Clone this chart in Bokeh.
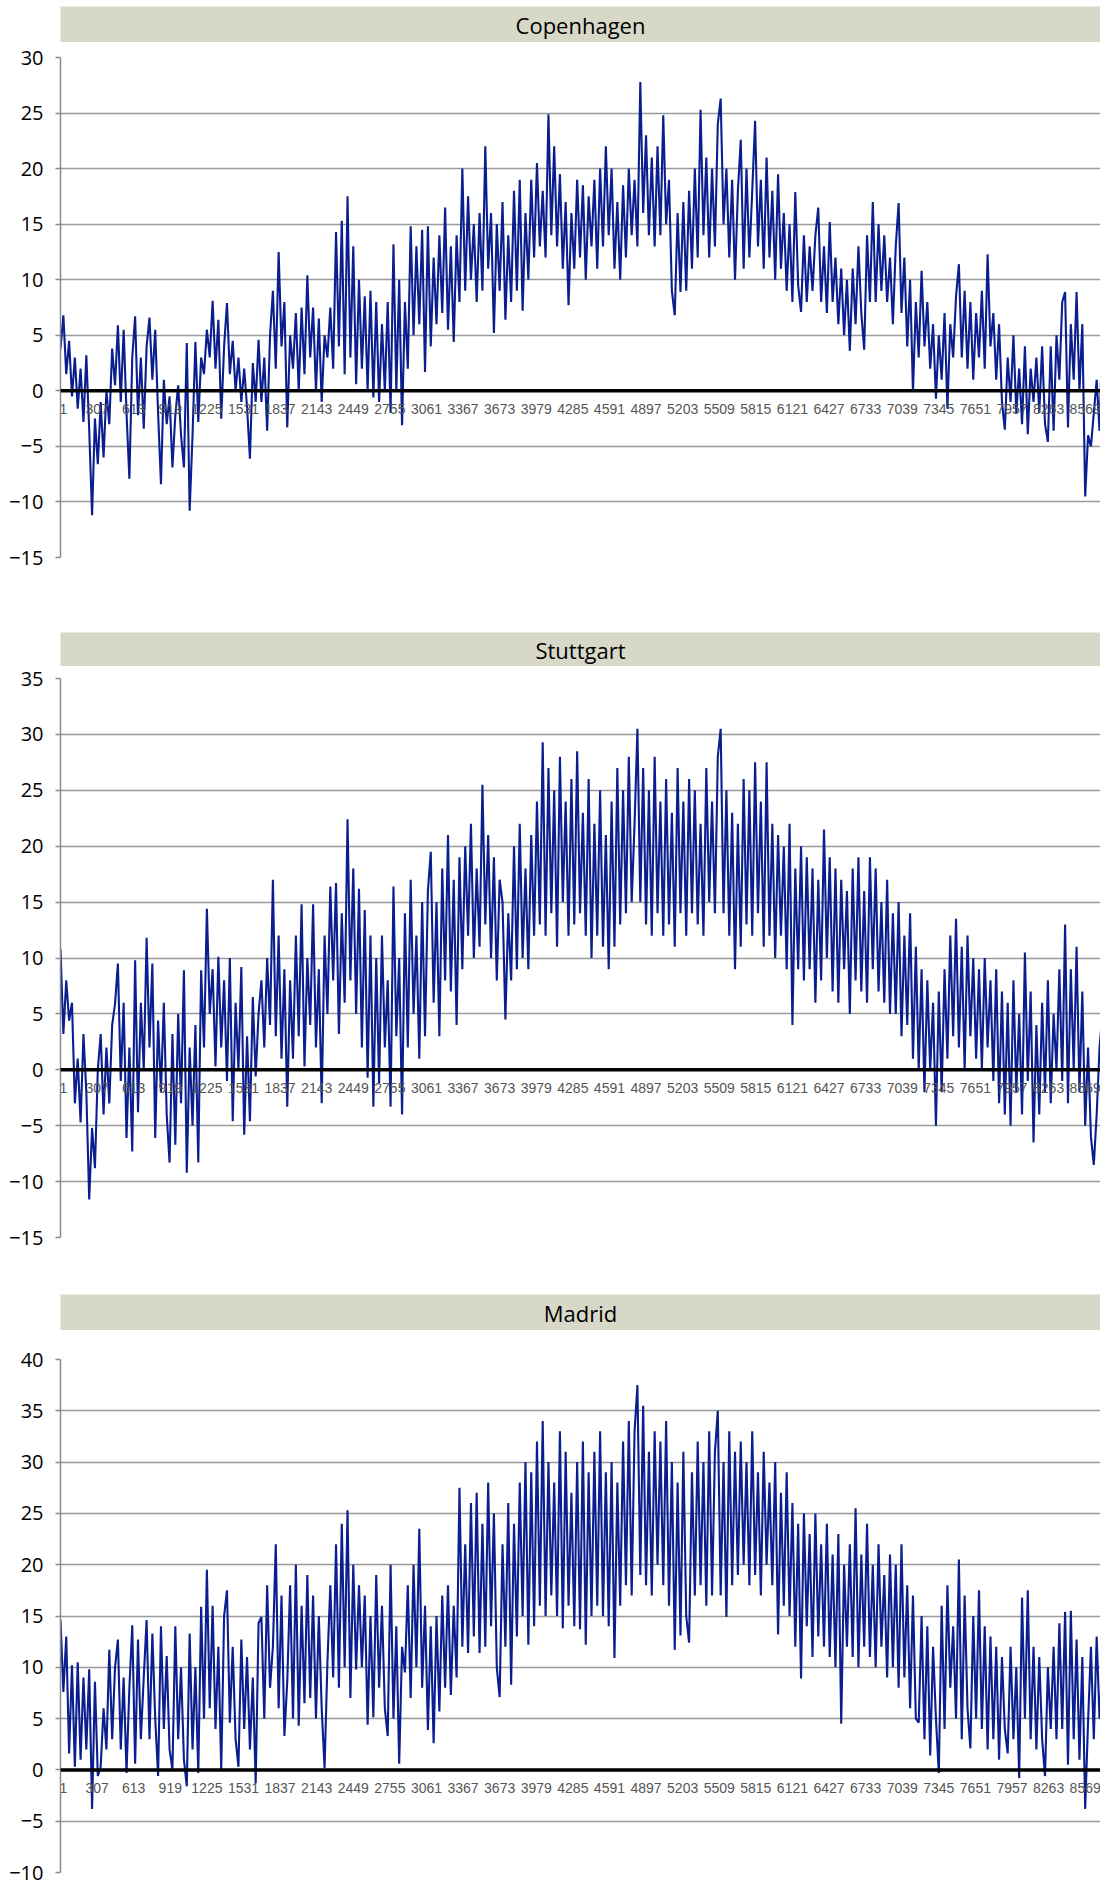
from bokeh.plotting import figure
from bokeh.layouts import column
from bokeh.models import Range1d, FixedTicker, Span
from bokeh.core.properties import value
from bokeh.embed import file_html
from bokeh.resources import INLINE

# ---------------- data (hourly temperature, °C), one reading every 24 hours ----------------
STEP_HOURS = 24

copenhagen = [
    3.8, 6.8, 1.5, 4.5, -0.5, 3.0, -1.6, 2.0, -2.8, 3.2,
    -3.5, -11.2, -2.5, -6.6, -1.0, -6.0, 0.0, -3.0, 3.8, 0.5,
    5.9, -1.0, 5.5, -2.0, -7.9, 3.0, 6.7, -2.2, 3.0, -3.4,
    4.0, 6.6, 1.0, 5.5, -2.0, -8.4, 1.0, -3.0, -0.5, -6.9,
    -2.2, 0.5, -4.0, -6.9, 4.3, -10.8, -4.0, 4.4, -2.8, 3.0,
    1.5, 5.5, 3.0, 8.1, 2.0, 6.4, -2.5, 4.0, 7.9, 1.5,
    4.5, 0.0, 3.0, -1.0, 2.0, -1.5, -6.1, 2.5, -1.0, 4.6,
    -1.0, 3.0, -3.6, 5.0, 9.0, 2.0, 12.5, 4.0, 8.0, -3.3,
    5.0, 2.0, 7.0, 0.0, 7.5, 1.5, 10.4, 3.0, 7.5, 0.0,
    6.5, -1.0, 5.0, 3.0, 7.5, 2.0, 14.3, 4.0, 15.3, 1.5,
    17.5, 3.0, 13.0, 0.6, 10.0, 2.0, 8.5, 0.0, 9.0, -0.6,
    8.0, -1.0, 6.0, 0.0, 8.0, -2.0, 13.2, 0.0, 10.0, -3.1,
    8.0, 2.0, 14.8, 5.0, 13.0, 6.0, 14.5, 1.7, 14.8, 4.0,
    12.0, 6.0, 14.0, 7.0, 16.5, 5.5, 13.0, 4.4, 14.0, 8.0,
    20.0, 9.0, 17.5, 10.0, 15.0, 8.0, 16.0, 9.0, 22.0, 11.0,
    16.0, 5.2, 15.0, 9.0, 17.0, 6.4, 14.0, 8.0, 18.0, 9.0,
    19.0, 7.2, 16.0, 10.0, 19.0, 12.0, 20.5, 13.0, 18.0, 12.0,
    24.9, 14.0, 22.0, 13.0, 19.5, 11.0, 17.0, 7.7, 16.0, 11.0,
    19.0, 12.0, 18.5, 10.0, 17.5, 13.0, 19.0, 11.0, 20.0, 13.0,
    22.0, 14.0, 20.0, 11.0, 17.0, 10.0, 18.5, 12.0, 20.0, 14.0,
    19.0, 13.0, 27.8, 16.0, 23.0, 14.0, 21.0, 13.0, 22.0, 14.0,
    24.8, 15.0, 19.0, 9.0, 6.8, 16.0, 8.9, 17.0, 9.0, 18.0,
    11.0, 20.0, 12.0, 25.3, 14.0, 21.0, 12.0, 20.0, 13.0, 24.0,
    26.3, 15.0, 20.0, 12.0, 19.0, 10.0, 18.0, 22.6, 11.0, 20.0,
    12.0, 18.0, 24.3, 13.0, 19.0, 11.0, 21.0, 12.0, 18.0, 10.0,
    19.5, 11.0, 16.0, 9.0, 15.0, 8.0, 17.9, 9.5, 7.1, 14.0,
    8.0, 13.0, 9.0, 14.0, 16.5, 8.0, 13.0, 7.0, 15.2, 8.0,
    12.0, 6.0, 11.0, 5.0, 10.0, 3.6, 11.0, 6.0, 13.0, 7.0,
    3.7, 14.0, 8.0, 17.0, 8.0, 15.0, 9.0, 14.0, 8.0, 12.0,
    6.0, 13.0, 16.9, 7.0, 12.0, 4.0, 10.0, -0.1, 8.0, 3.0,
    10.8, 4.0, 8.0, 2.0, 6.0, -0.7, 5.0, 1.0, 7.0, -1.6,
    6.0, 3.0, 8.5, 11.4, 3.0, 9.0, 2.0, 8.0, 1.0, 7.0,
    3.0, 9.0, 2.0, 12.3, 4.0, 7.0, 1.0, 6.0, -1.0, -3.5,
    3.0, -1.0, 5.0, -2.0, 2.0, -3.0, 4.0, -3.9, 2.0, -1.0,
    3.0, -2.0, 4.0, -3.0, -4.6, 4.0, -3.6, 5.0, 1.0, 8.0,
    8.9, -3.3, 6.0, 1.0, 8.9, 0.0, 6.0, -9.5, -4.0, -5.0,
    -2.0, 1.0, -3.6, 5.5,
]

stuttgart = [
    10.8, 3.2, 8.0, 4.4, 6.0, -3.0, 1.0, -4.7, 3.2, -2.0,
    -11.6, -5.2, -8.8, 0.0, 3.2, -4.0, 2.0, -3.0, 4.0, 5.9,
    9.5, -1.0, 6.0, -6.1, 2.0, -7.3, 9.8, -3.8, 6.0, 0.0,
    11.8, 2.0, 9.5, -6.1, 4.4, -2.0, 6.0, -4.0, -8.3, 3.2,
    -6.7, 5.0, -3.0, 8.9, -9.2, 2.0, -5.0, 4.0, -8.3, 8.9,
    2.0, 14.4, 5.0, 9.0, 0.3, 10.1, 2.0, 8.0, -1.0, 10.0,
    -4.6, 6.0, 0.0, 9.2, -5.8, 3.0, -4.6, 6.5, -0.6, 5.0,
    8.0, 2.0, 10.0, 4.0, 17.0, 3.0, 12.0, 1.0, 9.0, -3.3,
    8.0, 1.0, 12.0, 3.0, 14.8, 0.3, 10.0, 4.0, 14.8, 2.0,
    9.0, -3.0, 12.0, 5.0, 16.4, 8.0, 16.7, 3.2, 14.0, 6.0,
    22.4, 8.0, 18.0, 5.0, 16.2, 2.0, 14.3, -0.7, 12.0, -3.3,
    10.0, -1.2, 12.0, 2.0, 8.0, -3.3, 16.4, 3.0, 10.0, -4.0,
    14.0, 2.0, 17.0, 5.0, 12.0, 1.0, 15.0, 3.0, 16.0, 19.5,
    6.0, 15.0, 3.0, 18.0, 8.0, 21.0, 7.0, 17.0, 4.0, 19.0,
    9.0, 20.0, 12.0, 22.0, 10.0, 18.0, 11.0, 25.5, 13.0, 21.0,
    10.0, 19.0, 8.0, 17.0, 15.0, 4.5, 14.0, 8.0, 20.0, 9.0,
    22.0, 10.0, 18.0, 9.0, 21.0, 12.0, 24.0, 13.0, 29.3, 12.0,
    27.0, 14.0, 25.0, 11.0, 28.0, 15.0, 24.0, 12.0, 26.0, 13.0,
    28.5, 14.0, 23.0, 12.0, 26.0, 10.0, 22.0, 12.0, 25.0, 11.0,
    21.0, 9.0, 24.0, 11.0, 27.0, 13.0, 25.0, 14.0, 28.0, 15.0,
    22.0, 30.5, 15.0, 27.0, 13.0, 25.0, 12.0, 28.0, 14.0, 24.0,
    12.0, 26.0, 13.0, 23.0, 11.0, 27.0, 14.0, 24.0, 12.0, 26.0,
    14.0, 25.0, 13.0, 22.0, 12.0, 27.0, 15.0, 24.0, 14.0, 28.0,
    30.5, 14.0, 25.0, 12.0, 23.0, 9.0, 22.0, 11.0, 26.0, 13.0,
    25.0, 12.0, 27.5, 14.0, 24.0, 11.0, 27.5, 12.0, 22.0, 10.0,
    21.0, 12.0, 20.0, 9.0, 22.0, 4.0, 18.0, 9.0, 20.0, 8.0,
    19.0, 9.0, 18.0, 6.0, 17.0, 8.0, 21.5, 10.0, 19.0, 7.0,
    18.0, 6.0, 17.0, 9.0, 16.0, 5.0, 18.0, 8.0, 19.0, 7.0,
    16.0, 6.0, 19.0, 9.0, 18.0, 7.0, 15.0, 6.0, 17.0, 5.0,
    14.0, 5.0, 15.0, 3.0, 12.0, 4.0, 14.0, 1.0, 11.0, 0.0,
    9.0, -2.0, 8.0, 0.0, 6.0, -5.0, 7.0, -2.0, 9.0, 1.0,
    12.0, 3.0, 13.5, 2.0, 11.0, 0.0, 12.0, 3.0, 10.0, 1.0,
    9.0, 0.0, 10.0, 2.0, 8.0, -1.0, 9.0, -3.0, 7.0, -4.0,
    6.0, -5.0, 8.0, -2.0, 5.0, -4.0, 10.5, -1.0, 7.0, -6.5,
    4.0, -4.0, 6.0, -2.0, 8.0, -3.0, 5.0, 0.0, 9.0, -1.0,
    13.0, -3.0, 9.0, 0.0, 11.0, -2.0, 7.0, -5.0, 2.0, -6.0,
    -8.5, -4.0, 2.0, 5.0,
]

madrid = [
    14.6, 7.6, 13.0, 1.6, 10.2, 0.3, 10.5, 1.0, 9.0, 2.0,
    9.8, -3.8, 8.6, -0.6, 0.3, 6.0, 2.0, 11.7, 3.0, 10.0,
    12.7, 2.0, 9.0, -0.3, 8.0, 14.1, 0.6, 12.7, 3.0, 9.0,
    14.6, 3.0, 13.3, 5.0, -0.6, 14.0, 4.0, 11.1, 2.0, 0.0,
    14.0, 3.0, 10.0, 1.0, -1.6, 13.3, 2.0, 10.0, -0.3, 15.9,
    5.0, 19.5, 6.0, 16.0, 4.0, 12.0, 0.0, 15.0, 17.5, 4.6,
    12.0, 3.0, 0.3, 12.7, 4.0, 11.0, 2.0, 9.0, -1.3, 14.3,
    14.9, 5.0, 18.0, 8.0, 12.0, 22.0, 6.0, 17.0, 3.3, 8.6,
    18.0, 5.0, 20.0, 4.3, 16.0, 6.5, 19.0, 7.0, 17.0, 5.0,
    15.0, 6.0, 0.2, 10.5, 18.0, 9.0, 22.0, 8.0, 24.0, 10.0,
    25.3, 7.0, 20.0, 9.8, 18.0, 10.0, 17.0, 4.4, 15.0, 5.1,
    19.0, 8.0, 16.0, 6.0, 3.3, 20.0, 5.0, 14.0, 0.6, 12.0,
    9.5, 18.0, 7.0, 20.0, 10.0, 23.5, 8.0, 16.0, 3.9, 14.0,
    2.6, 15.0, 5.7, 17.0, 8.0, 18.0, 7.3, 16.0, 9.0, 27.5,
    12.0, 22.0, 11.4, 26.0, 13.0, 27.0, 11.4, 24.0, 12.0, 28.0,
    14.0, 25.0, 10.0, 7.1, 22.0, 12.0, 26.0, 8.3, 24.0, 13.0,
    28.0, 15.0, 30.0, 12.2, 29.0, 14.0, 32.0, 16.0, 34.0, 15.0,
    30.0, 17.0, 28.0, 15.0, 33.0, 13.8, 31.0, 16.0, 27.0, 14.0,
    30.0, 13.7, 32.0, 12.2, 29.0, 15.0, 31.0, 16.0, 33.0, 15.0,
    29.0, 14.0, 30.0, 10.9, 28.0, 16.0, 32.0, 18.0, 34.0, 17.0,
    33.0, 37.5, 19.0, 35.5, 18.0, 31.0, 17.0, 33.0, 20.0, 32.0,
    18.0, 34.0, 16.0, 30.0, 11.7, 28.0, 13.1, 31.0, 15.0, 12.4,
    29.0, 17.0, 32.0, 18.0, 30.0, 16.0, 33.0, 17.0, 31.0, 35.0,
    17.0, 30.0, 14.9, 33.0, 18.0, 31.0, 19.0, 32.0, 20.0, 30.0,
    18.0, 33.0, 19.0, 29.0, 17.0, 31.0, 20.0, 28.0, 18.0, 30.0,
    13.2, 27.0, 16.0, 29.0, 15.0, 26.0, 12.0, 24.0, 8.9, 25.0,
    14.0, 23.0, 11.0, 25.0, 13.0, 22.0, 12.0, 24.0, 11.0, 21.0,
    10.0, 23.0, 4.5, 20.0, 12.0, 22.0, 11.0, 25.5, 10.0, 21.0,
    12.0, 24.0, 11.0, 20.0, 10.0, 22.0, 12.0, 19.0, 9.0, 21.0,
    10.0, 20.0, 8.0, 22.0, 9.0, 18.0, 6.0, 17.0, 5.0, 4.6,
    15.0, 3.0, 14.0, 1.4, 12.0, 5.0, -0.3, 16.0, 4.0, 18.0,
    8.0, 14.0, 5.0, 20.5, 3.0, 17.0, 6.0, 2.1, 15.0, 5.0,
    17.5, 4.0, 14.0, 2.0, 13.0, 3.0, 12.0, 1.0, 11.0, 4.0,
    1.6, 12.0, 3.0, 10.0, -0.8, 16.8, 5.0, 17.5, 3.0, 12.0,
    2.0, 11.0, 3.0, -0.6, 10.0, 4.0, 12.0, 3.0, 14.3, 4.0,
    15.4, 0.5, 15.5, 3.0, 12.7, 1.0, 11.0, -3.8, 4.7, 12.0,
    3.0, 13.0, 5.0, 10.0,
]

titles = ["Copenhagen", "Stuttgart", "Madrid"]
series = [copenhagen, stuttgart, madrid]
y_ticks = [
    [-15, -10, -5, 0, 5, 10, 15, 20, 25, 30],
    [-15, -10, -5, 0, 5, 10, 15, 20, 25, 30, 35],
    [-10, -5, 0, 5, 10, 15, 20, 25, 30, 35, 40],
]
x_tick_labels = ["1", "307", "613", "919", "1225", "1531", "1837", "2143", "2449",
                 "2755", "3061", "3367", "3673", "3979", "4285", "4591", "4897",
                 "5203", "5509", "5815", "6121", "6427", "6733", "7039", "7345",
                 "7651", "7957", "8263", "8569"]

# ---------------- layout / styling ----------------
W = 1100
LEFT = 60
BAR_COLOR = "#d8d8c8"
LINE_COLOR = "#0a1e8f"
y_ranges = [(-15, 30), (-15, 35), (-10, 40)]
bar_geom = [(42, 6), (34, 0), (36, 0)]      # (height, border_top)
plot_geom = [  # (height, border_top, border_bottom)
    (590, 15, 75),
    (628, 12, 57),
    (556, 29, 14),
]
label_x_offsets = [3] + [0] * (len(x_tick_labels) - 1)

children = []
for title, vals, ticks, yr, (bh, bbt), (ph, bt, bb) in zip(titles, series, y_ticks, y_ranges,
                                                          bar_geom, plot_geom):
    # title bar
    t = figure(width=W, height=bh, x_range=Range1d(0, 1), y_range=Range1d(0, 1),
               x_axis_location=None, y_axis_location=None,
               min_border_left=LEFT, min_border_right=0, min_border_top=bbt,
               min_border_bottom=0, output_backend="svg", toolbar_location=None)
    t.background_fill_color = BAR_COLOR
    t.border_fill_color = "white"
    t.outline_line_color = None
    t.grid.visible = False
    t.text(x=[0.5], y=[0.5], text=[title], text_align="center", text_baseline="middle",
           text_font=value("Open Sans"), text_font_size="22px", text_color="black")
    children.append(t)

    # chart
    hours = [1 + STEP_HOURS * i for i in range(len(vals))]
    p = figure(width=W, height=ph, x_range=Range1d(1, 8697), y_range=Range1d(*yr),
               x_axis_location=None, min_border_left=LEFT, min_border_right=0,
               min_border_top=bt, min_border_bottom=bb,
               output_backend="svg", toolbar_location=None)
    p.outline_line_color = None
    p.background_fill_color = "white"
    p.border_fill_color = "white"
    p.xgrid.visible = False
    p.yaxis.ticker = FixedTicker(ticks=ticks)
    p.ygrid.ticker = FixedTicker(ticks=ticks)
    p.ygrid.grid_line_color = "#9a9a9a"
    p.ygrid.grid_line_width = 1.5
    p.yaxis.axis_line_color = "#8a8a8a"
    p.yaxis.axis_line_width = 1.5
    p.yaxis.major_tick_line_color = "#8a8a8a"
    p.yaxis.major_tick_line_width = 1.5
    p.yaxis.major_tick_out = 5
    p.yaxis.major_tick_in = 0
    p.yaxis.minor_tick_line_color = None
    p.yaxis.major_label_text_font = "Open Sans"
    p.yaxis.major_label_text_font_size = "20px"
    p.yaxis.major_label_text_color = "black"
    p.yaxis.major_label_standoff = 12

    p.line(hours, vals, line_color=LINE_COLOR, line_width=2.1)

    p.text(x=[int(s) for s in x_tick_labels], y=[0] * len(x_tick_labels),
           text=x_tick_labels, text_align="center", text_baseline="top", y_offset=13,
           x_offset=label_x_offsets,
           text_font=value("Liberation Sans"), text_font_size="14px",
           text_color="#555555")
    p.add_layout(Span(location=0, dimension="width", line_color="black", line_width=3.5))
    children.append(p)

layout = column(*children, spacing=0)
open("out.html", "w").write(file_html(layout, INLINE))
